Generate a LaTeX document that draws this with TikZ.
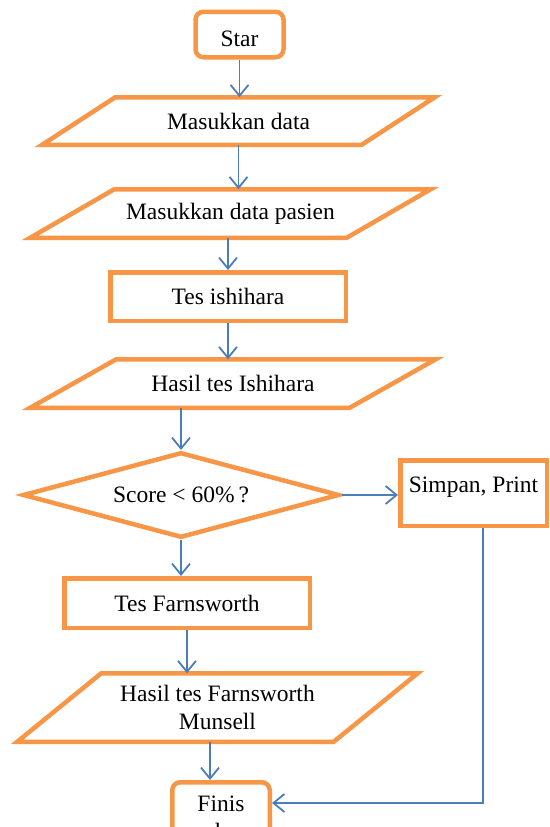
\documentclass[tikz,border=0pt]{standalone}
\usepackage{fontspec}
\setmainfont{Liberation Serif}
\usetikzlibrary{arrows.meta,shapes.geometric,calc}

\definecolor{boxorange}{HTML}{F79646}
\definecolor{lineblue}{HTML}{4A7EBB}

\tikzset{
  block/.style={draw=boxorange, line width=4.5pt, align=center, inner sep=0pt},
  terminal/.style={block, rounded corners=8pt},
  decision/.style={block, diamond, aspect=3.7},
  io/.style={align=center, inner sep=0pt, outer sep=0pt},
  ioedge/.style={draw=boxorange, line width=4.5pt},
  flowline/.style={draw=lineblue, line width=1.8pt},
  flowarrow/.style={flowline, -{Straight Barb[length=11pt,width=18pt]}}
}

% slanted outline round an io node: name, slant
\newcommand{\slantbox}[2]{%
  \draw[ioedge] (#1.south west) -- ([xshift=#2]#1.north west)
    -- (#1.north east) -- ([xshift=-#2]#1.south east) -- cycle;}

\begin{document}
\begin{tikzpicture}[x=1pt, y=-1pt, every node/.style={font=\fontsize{23.5}{28}\selectfont}]
\useasboundingbox (0,0) rectangle (549,827);
\clip (0,0) rectangle (549,827);

% boxes of the flow
\node[terminal, minimum width=88, minimum height=45.5, text height=24pt] (start) at (239.5,34.5) {Star};
\node[io, minimum width=392.5, minimum height=47.5] (in1) at (238.5,121) {Masukkan data};
\node[io, minimum width=400.5, minimum height=48.5] (in2) at (230.5,213.5) {Masukkan data pasien};
\node[block, minimum width=235.5, minimum height=48.5] (tes1) at (228,296.5) {Tes ishihara};
\node[io, minimum width=405.5, minimum height=48.5] (in3) at (233,383.5) {Hasil tes Ishihara};
\node[decision, minimum width=316.5, minimum height=85.5] (d1) at (181,495) {Score < 60\%\,?};
\node[block, minimum width=146.5, minimum height=65.5, text depth=17pt] (simpan) at (473.5,493) {Simpan, Print};
\node[block, minimum width=245.5, minimum height=49.5] (tes2) at (187,603) {Tes Farnsworth};
\node[io, minimum width=400.5, minimum height=68.5] (in4) at (217.5,707.5) {Hasil tes Farnsworth\\Munsell};
\node[terminal, minimum width=97.5, minimum height=70, anchor=north] (fin) at (221,780) {Finis\\h};

% input / output outlines
\slantbox{in1}{73}
\slantbox{in2}{84}
\slantbox{in3}{86}
\slantbox{in4}{84}

% connectors
\draw[flowarrow] (start.south) -- (start.south |- in1.north);
\draw[flowarrow] (in1.south) -- (in1.south |- in2.north);
\draw[flowarrow] (tes1.north |- in2.south) -- (tes1.north);
\draw[flowarrow] (tes1.south) -- (tes1.south |- in3.north);
\draw[flowarrow] (d1.north |- in3.south) -- (d1.north);
\draw[flowarrow] (d1.east) -- (d1.east -| simpan.west);
\draw[flowarrow] (d1.south) -- (d1.south |- tes2.north);
\draw[flowarrow] (tes2.south) -- (tes2.south |- in4.north);
\draw[flowarrow] ([xshift=-11pt]fin.north |- in4.south) -- ([xshift=-11pt]fin.north);
\coordinate (turn) at (483,803);
\draw[flowarrow] (turn |- simpan.south) -- (turn) -- (turn -| fin.east);
\end{tikzpicture}
\end{document}
